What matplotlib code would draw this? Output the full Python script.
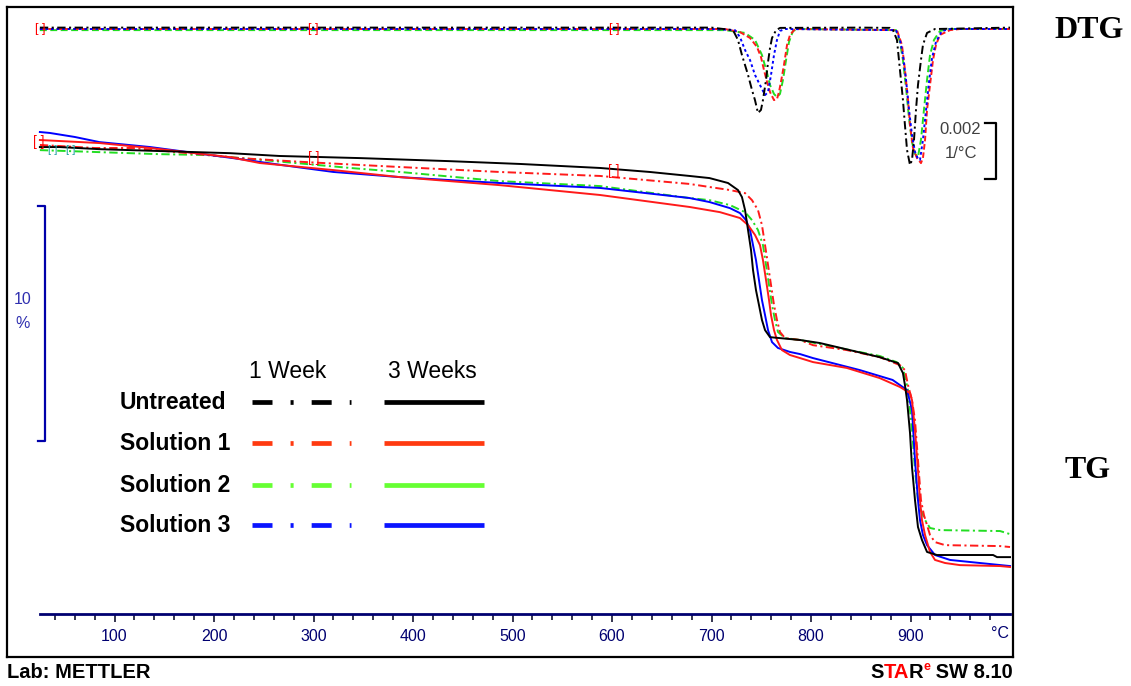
import matplotlib
matplotlib.use("Agg")
import matplotlib.pyplot as plt
from matplotlib.lines import Line2D
from matplotlib.ticker import FixedLocator

plt.rcParams['font.family'] = ['Liberation Sans', 'DejaVu Sans']
plt.rcParams['lines.scale_dashes'] = False

# ---------------- data (temperature in degC) ----------------
# TG curves, mass in %
tg_black_3w_T = [25, 45, 85, 146, 216, 266, 347, 437, 508, 588, 638, 678, 698, 716.6, 726.6, 730.6, 733.7,
                 736.7, 739.7, 741.7, 744.7, 747.7, 750.7, 753.8, 758.8, 768.8, 789, 809, 839, 869, 884,
                 887.4, 892.4, 894.4, 896.5, 899.5, 901.5, 904.5, 907.5, 911.5, 916.6, 926.6, 983, 987, 1000]
tg_black_3w_m = [100.00, 100.00, 99.91, 99.83, 99.74, 99.62, 99.53, 99.40, 99.28, 99.11, 98.94, 98.77, 98.68,
                 98.47, 98.17, 97.87, 97.32, 96.47, 95.62, 94.77, 93.91, 93.28, 92.64, 92.21, 91.91, 91.87,
                 91.79, 91.66, 91.36, 91.06, 90.85, 90.81, 90.38, 89.87, 89.23, 87.83, 86.38, 84.98, 83.83,
                 83.28, 82.77, 82.64, 82.64, 82.55, 82.55]

tg_red_3w_T = [25, 85, 136, 216, 246, 320, 387, 487, 588, 678, 708.5, 728.6, 736.7, 743.7, 748.7, 751.7, 754.8,
               757.8, 759.8, 762.8, 765.8, 770.8, 778.9, 789, 802, 836, 869, 889.4, 899.5, 901.5, 904.5, 907.5,
               909.5, 911.5, 914.6, 919.6, 924.6, 934.7, 949.7, 990, 1000]
tg_red_3w_m = [100.30, 100.17, 99.96, 99.57, 99.32, 99.02, 98.72, 98.38, 97.96, 97.45, 97.23, 96.98, 96.68,
               96.26, 95.83, 95.19, 94.34, 93.49, 92.85, 92.21, 91.79, 91.36, 91.15, 91.02, 90.85, 90.60, 90.17,
               89.79, 89.53, 89.23, 87.96, 86.26, 84.98, 84.13, 83.49, 82.77, 82.43, 82.30, 82.21, 82.17, 82.13]

tg_blue_3w_T = [25, 35, 60, 85, 136, 173, 219, 269, 320, 387, 487, 588, 678, 698, 718.6, 728.6, 734.7, 738.7,
                741.7, 744.7, 747.7, 750.7, 753.8, 756.8, 760.8, 766.8, 778.9, 789, 802, 849, 882, 896.5, 901.5,
                904.5, 907.5, 909.5, 912.5, 916.6, 924.6, 939.7, 969.8, 1000]
tg_blue_3w_m = [100.64, 100.60, 100.43, 100.21, 100.00, 99.79, 99.53, 99.23, 98.94, 98.72, 98.47, 98.26, 97.83,
                97.66, 97.40, 97.19, 96.89, 96.47, 95.83, 95.19, 94.34, 93.49, 92.85, 92.21, 91.70, 91.45, 91.28,
                91.19, 91.02, 90.51, 90.09, 89.66, 88.81, 86.68, 84.98, 84.13, 83.49, 83.06, 82.64, 82.43, 82.30,
                82.17]

tg_red_1w_T = [25, 80, 119, 226, 276, 310, 387, 487, 588, 678, 698, 718.6, 733.7, 740.7, 746.7, 750.7, 753.8,
               756.8, 759.8, 762.8, 765.8, 768.8, 773.9, 789, 802, 836, 869, 889.4, 894.4, 897.5, 901.5, 904.5,
               907.5, 910.5, 913.5, 916.6, 919.6, 924.6, 934.7, 990, 1000]
tg_red_1w_m = [100.09, 99.96, 99.96, 99.53, 99.40, 99.32, 99.15, 98.94, 98.77, 98.43, 98.30, 98.17, 98.04, 97.74,
               97.32, 96.68, 95.83, 94.98, 94.13, 93.28, 92.64, 92.13, 91.87, 91.79, 91.57, 91.36, 91.06, 90.72,
               90.51, 89.87, 89.23, 88.38, 86.68, 84.98, 84.34, 83.91, 83.49, 83.19, 83.06, 83.02, 82.98]

tg_green_1w_T = [25, 143, 193, 337, 387, 487, 588, 678, 698, 718.6, 733.7, 740.7, 746.7, 751.7, 754.8, 757.8,
                 760.8, 763.8, 766.8, 773.9, 789, 839, 869, 886, 892.4, 897.5, 901.5, 904.5, 907.5, 910.5, 914.6,
                 919.6, 929.6, 990, 1000]
tg_green_1w_m = [99.87, 99.70, 99.66, 99.11, 98.94, 98.55, 98.34, 97.83, 97.74, 97.53, 97.23, 96.89, 96.47,
                 95.83, 94.98, 94.13, 93.28, 92.64, 92.13, 91.87, 91.79, 91.36, 91.11, 90.85, 90.60, 89.66, 87.96,
                 86.26, 84.98, 84.55, 84.13, 83.79, 83.70, 83.66, 83.53]

# DTG curves (1 week), in units of 1e-3 1/degC
dtg_black_T = [25, 300, 600, 700, 721.6, 726.6, 730.6, 733.7, 736.7, 740.7, 743.7, 746.7, 749.7, 751.7, 754.8,
               756.8, 758.8, 760.8, 764.9, 769, 850, 879.4, 882.4, 886.4, 888.4, 890.4, 892.4, 894.4, 896.5,
               899.5, 901.5, 903.5, 905.5, 907.5, 910.5, 912.5, 916.6, 924.6, 1000]
dtg_black_d = [0.05, 0.05, 0.05, 0.05, -0.04, -0.39, -0.93, -1.29, -1.64, -2.18, -2.54, -3.00, -2.89, -2.54,
               -1.82, -1.18, -0.68, -0.32, -0.04, 0.04, 0.05, 0.04, -0.04, -0.39, -1.11, -1.82, -2.54, -3.43,
               -4.32, -4.86, -4.68, -3.96, -2.89, -2.00, -1.11, -0.57, -0.14, 0.0, 0.05]

dtg_red_T = [25, 713.5, 728.6, 738.7, 745.7, 749.7, 752.7, 755.8, 758.8, 762.8, 765.8, 767.8, 769.8, 772.8,
             775.9, 778.9, 783.9, 886.4, 891.4, 894.4, 897.5, 899.5, 902.5, 906.5, 910.5, 912.5, 914.6, 916.6,
             919.6, 922.6, 925.6, 929.6, 939.7, 949.7, 1000]
dtg_red_d = [0, 0, -0.11, -0.32, -0.64, -1.00, -1.46, -1.89, -2.25, -2.54, -2.50, -2.25, -1.89, -1.29, -0.57,
             -0.21, 0, -0.04, -0.57, -1.46, -2.54, -3.43, -4.25, -4.61, -4.79, -4.61, -3.96, -2.89, -2.00,
             -1.11, -0.57, -0.21, -0.04, 0, 0]

dtg_green_T = [25, 713.5, 733.7, 743.7, 750.7, 755.8, 758.8, 762.8, 765.8, 768.8, 771.8, 774.9, 777.9, 781.9,
               787, 885.4, 889.4, 892.4, 895.5, 898.5, 901.5, 904.5, 907.5, 910.5, 913.5, 916.6, 919.6, 923.6,
               929.6, 937.7, 1000]
dtg_green_d = [-0.04, -0.04, -0.14, -0.39, -0.93, -1.57, -2.00, -2.32, -2.43, -2.32, -1.82, -1.11, -0.46, -0.07,
               0, -0.04, -0.46, -1.11, -2.11, -3.18, -4.04, -4.46, -4.57, -3.96, -2.89, -1.82, -0.93, -0.39,
               -0.07, 0, 0]

dtg_blue_T = [25, 700, 723.6, 728.6, 733.7, 738.7, 743.7, 748.7, 753.8, 756.8, 759.8, 762.8, 765.8, 768.8,
              773.9, 885.4, 889.4, 892.4, 895.5, 898.5, 901.5, 904.5, 907.5, 909.5, 912.5, 915.6, 918.6, 921.6,
              925.6, 931.6, 939.7, 1000]
dtg_blue_d = [0, 0, -0.04, -0.29, -0.75, -1.11, -1.64, -2.00, -2.36, -2.25, -1.64, -0.93, -0.39, -0.07, 0,
              -0.04, -0.39, -0.93, -1.82, -2.89, -3.79, -4.39, -4.64, -4.68, -3.96, -2.89, -1.89, -1.04, -0.46,
              -0.07, 0, 0]

legend_rows = ["Untreated", "Solution 1", "Solution 2", "Solution 3"]
legend_cols = ["1 Week", "3 Weeks"]
major_ticks = [100, 200, 300, 400, 500, 600, 700, 800, 900]
minor_ticks = [t for t in range(40, 1000, 20) if t % 100 != 0]

# ---------------- styling ----------------
C_BLACK = '#000000'
C_RED = '#ff1a1a'
C_GREEN = '#22dd22'
C_BLUE = '#0000ff'
LEG_COLORS = ['#000000', '#ff3a10', '#66ff33', '#0a14ff']
DASH_1W = (0, (6, 2.5, 1.5, 2.5))
W, H = 1131, 686


def fx(px):
    return px / W


def fy(py):
    return 1 - py / H


fig = plt.figure(figsize=(W / 100, H / 100), dpi=100)

# main frame / TG axes
ax = fig.add_axes([fx(7), fy(657), fx(1013) - fx(7), fy(7) - fy(657)])
ax.set_xlim(-8.04, 1003.0)
ax.set_ylim(78.30, 105.96)
ax.set_xticks([])
ax.set_yticks([])
for s in ax.spines.values():
    s.set_linewidth(1.6)

# DTG axes
ax2 = ax.twinx()
ax2.set_ylim(-22.43, 0.786)
ax2.set_yticks([])
for s in ax2.spines.values():
    s.set_visible(False)

lw = 1.4
ax.plot(tg_green_1w_T, tg_green_1w_m, color=C_GREEN, lw=lw, linestyle=DASH_1W)
ax.plot(tg_red_1w_T, tg_red_1w_m, color=C_RED, lw=lw, linestyle=DASH_1W)
ax.plot(tg_blue_3w_T, tg_blue_3w_m, color=C_BLUE, lw=lw)
ax.plot(tg_red_3w_T, tg_red_3w_m, color=C_RED, lw=lw)
ax.plot(tg_black_3w_T, tg_black_3w_m, color=C_BLACK, lw=lw)

ax2.plot(dtg_green_T, dtg_green_d, color=C_GREEN, lw=lw, linestyle=(0, (5, 2.5)))
ax2.plot(dtg_red_T, dtg_red_d, color=C_RED, lw=lw, linestyle=(0, (4, 2)))
ax2.plot(dtg_blue_T, dtg_blue_d, color=C_BLUE, lw=lw, linestyle=(0, (2, 2)))
ax2.plot(dtg_black_T, dtg_black_d, color=C_BLACK, lw=lw, linestyle=DASH_1W)

# evaluation markers
for T in [25, 300, 602]:
    ax2.text(T, 0.0, "[ ]", color='red', fontsize=9, ha='center', va='center')
for T, m in [(24, 100.2), (300, 99.55), (602, 99.0)]:
    ax.text(T, m, "[ ]", color='red', fontsize=10, ha='center', va='center')
for T in [38, 56]:
    ax.text(T, 99.87, "[ ]", color='#20a0a0', fontsize=8, ha='center', va='center')

# TG scale bar (10 %)
ax.plot([23.1, 30.2, 30.2, 23.1], [97.5, 97.5, 87.5, 87.5], color='#0000aa', lw=1.6)
fig.text(fx(23), fy(300), "10", color='#3030b0', fontsize=11.5, ha='center', va='center')
fig.text(fx(23), fy(324), "%", color='#3030b0', fontsize=11.5, ha='center', va='center')

# DTG scale bar (0.002 1/degC)
ax2.plot([975, 986, 986, 975], [-3.36, -3.36, -5.36, -5.36], color='black', lw=1.6)
fig.text(fx(981), fy(130), "0.002", color='#404040', fontsize=12, ha='right', va='center')
fig.text(fx(977), fy(153), "1/°C", color='#404040', fontsize=12, ha='right', va='center')

# temperature axis
axx = fig.add_axes([fx(39.9), fy(614), fx(1010) - fx(39.9), 0.0001])
axx.set_xlim(25, 1000)
axx.patch.set_visible(False)
axx.set_yticks([])
for side in ['left', 'right', 'top']:
    axx.spines[side].set_visible(False)
axx.spines['bottom'].set_color('#000070')
axx.spines['bottom'].set_linewidth(2.0)
axx.xaxis.set_major_locator(FixedLocator(major_ticks))
axx.xaxis.set_minor_locator(FixedLocator(minor_ticks))
axx.set_xticklabels([str(t) for t in major_ticks])
axx.tick_params(axis='x', which='major', direction='out', length=6, width=1.1, color='#000020',
                labelcolor='#000070', labelsize=11.5, pad=5)
axx.tick_params(axis='x', which='minor', direction='out', length=4, width=1.1, color='#000020')
fig.text(fx(1000), fy(634), "°C", color='#000070', fontsize=11.5, ha='center', va='center')

# legend
fig.text(fx(288), fy(372), legend_cols[0], fontsize=16.5, ha='center', va='center')
fig.text(fx(432), fy(372), legend_cols[1], fontsize=16.5, ha='center', va='center')
row_y = [403, 444, 486, 526]
for name, col, y in zip(legend_rows, LEG_COLORS, row_y):
    fig.text(fx(120), fy(y), name, fontsize=16.5, fontweight='bold', ha='left', va='center')
    fig.add_artist(Line2D([fx(252), fx(351)], [fy(y - 1), fy(y - 1)], transform=fig.transFigure,
                          color=col, lw=3.4, linestyle=(0, (14.4, 13, 2.2, 13)), solid_capstyle='butt',
                          dash_capstyle='butt'))
    fig.add_artist(Line2D([fx(384), fx(484)], [fy(y - 1), fy(y - 1)], transform=fig.transFigure,
                          color=col, lw=3.4, solid_capstyle='butt'))

# side labels
fig.text(fx(1089), fy(30), "DTG", family='Liberation Serif', fontweight='bold', fontsize=23,
         ha='center', va='center')
fig.text(fx(1088), fy(471), "TG", family='Liberation Serif', fontweight='bold', fontsize=23,
         ha='center', va='center')

# footer
fig.text(fx(7), fy(672), "Lab: METTLER", fontsize=14.5, fontweight='bold', ha='left', va='center')

renderer = fig.canvas.get_renderer()
parts = [("S", 'black', 14.5, 0), ("TA", 'red', 14.5, 0), ("R", 'black', 14.5, 0), ("e", 'red', 9, 5),
         (" SW 8.10", 'black', 14.5, 0)]
texts = []
total = 0
for s, c, sz, dy in parts:
    t = fig.text(0, fy(672 - dy), s, color=c, fontsize=sz, fontweight='bold', ha='left', va='center')
    w = t.get_window_extent(renderer).width
    texts.append((t, w))
    total += w
x = 1013 - total
for t, w in texts:
    t.set_x(fx(x))
    x += w

fig.savefig("out.png", dpi=100)
